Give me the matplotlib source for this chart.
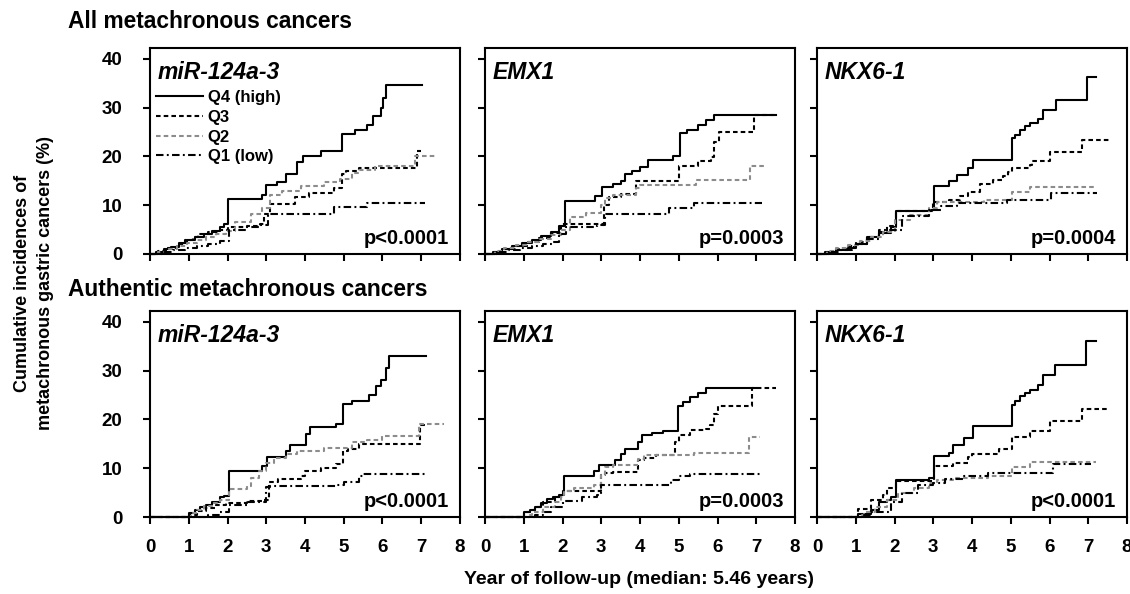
import matplotlib
matplotlib.use("Agg")
import matplotlib.pyplot as plt

plt.rcParams['font.family'] = ['Liberation Sans', 'DejaVu Sans']
plt.rcParams['font.weight'] = 'bold'

# ---------------- data ----------------
genes = ["miR-124a-3", "EMX1", "NKX6-1"]
row_titles = ["All metachronous cancers", "Authentic metachronous cancers"]
p_values = [["p<0.0001", "p=0.0003", "p=0.0004"],
            ["p<0.0001", "p=0.0003", "p<0.0001"]]
series_labels = ["Q4 (high)", "Q3", "Q2", "Q1 (low)"]
x_ticks = [0, 1, 2, 3, 4, 5, 6, 7, 8]
y_ticks = [0, 10, 20, 30, 40]

# Row 1 (all metachronous cancers)
a1_q4_t = [0, 0.15, 0.35, 0.55, 0.75, 0.95, 1.15, 1.4, 1.6, 1.8, 1.92, 2.0, 2.9, 3.0, 3.28, 3.5, 3.8, 3.95, 4.4, 4.95, 5.3, 5.6, 5.75, 5.95, 6.02, 6.08, 7.03]
a1_q4_y = [0, 0.5, 1.0, 1.5, 2.2, 2.8, 3.4, 4.0, 4.7, 5.5, 6.2, 11.3, 12.0, 14.1, 14.8, 16.3, 18.8, 20.1, 21.0, 24.6, 25.5, 26.5, 28.2, 29.9, 32.0, 34.6, 34.6]
a1_q3_t = [0, 0.2, 0.45, 0.7, 0.9, 1.1, 1.25, 1.5, 1.8, 2.0, 2.5, 2.85, 2.95, 3.1, 3.75, 4.1, 4.75, 4.95, 5.05, 5.4, 6.88, 7.0]
a1_q3_y = [0, 0.6, 1.2, 2.0, 2.8, 3.5, 4.1, 4.5, 5.0, 5.5, 5.8, 6.2, 8.2, 10.2, 11.6, 12.5, 13.6, 16.3, 17.0, 17.7, 21.0, 21.0]
a1_q2_t = [0, 0.2, 0.45, 0.7, 0.95, 1.2, 1.45, 1.7, 1.95, 2.2, 2.6, 2.9, 3.1, 3.4, 3.9, 4.5, 4.9, 5.2, 5.4, 5.8, 6.85, 7.4]
a1_q2_y = [0, 0.5, 1.0, 1.6, 2.2, 2.8, 3.4, 4.0, 4.8, 6.5, 8.2, 9.5, 12.1, 13.0, 13.9, 14.8, 15.3, 16.5, 17.3, 18.0, 20.1, 20.1]
a1_q1_t = [0, 0.3, 0.6, 0.9, 1.2, 1.5, 1.8, 2.05, 2.5, 2.85, 3.05, 4.75, 5.6, 7.1]
a1_q1_y = [0, 0.4, 0.8, 1.2, 1.6, 2.0, 2.7, 5.0, 5.5, 6.0, 8.2, 9.7, 10.5, 10.5]

a2_q4_t = [0, 0.2, 0.45, 0.7, 0.95, 1.2, 1.45, 1.7, 1.9, 2.07, 2.85, 3.02, 3.3, 3.5, 3.62, 3.8, 4.0, 4.2, 4.85, 5.02, 5.2, 5.5, 5.7, 5.9, 7.5]
a2_q4_y = [0, 0.5, 1.0, 1.6, 2.2, 2.8, 3.6, 4.5, 5.8, 10.9, 11.8, 13.8, 14.3, 15.0, 16.3, 17.0, 17.8, 19.3, 20.0, 24.8, 25.5, 26.5, 27.4, 28.4, 28.4]
a2_q3_t = [0, 0.25, 0.5, 0.8, 1.1, 1.4, 1.7, 1.95, 3.06, 3.2, 3.5, 3.9, 5.0, 5.5, 5.83, 5.92, 6.05, 6.93, 7.5]
a2_q3_y = [0, 0.5, 1.0, 1.6, 2.4, 3.2, 4.2, 6.1, 10.0, 11.6, 12.3, 15.0, 18.0, 19.0, 19.9, 23.0, 25.0, 28.4, 28.4]
a2_q2_t = [0, 0.25, 0.5, 0.8, 1.1, 1.4, 1.7, 1.95, 2.2, 2.6, 3.0, 3.1, 3.3, 3.9, 4.0, 5.45, 6.83, 7.2]
a2_q2_y = [0, 0.6, 1.2, 1.8, 2.4, 3.0, 3.8, 5.0, 7.5, 8.4, 10.0, 11.5, 12.0, 13.5, 14.1, 15.2, 18.0, 18.0]
a2_q1_t = [0, 0.3, 0.6, 0.9, 1.2, 1.5, 1.75, 1.9, 2.1, 2.9, 3.1, 4.75, 5.4, 7.15]
a2_q1_y = [0, 0.4, 0.8, 1.2, 1.6, 2.0, 2.5, 4.0, 5.5, 6.0, 8.2, 9.5, 10.4, 10.4]

a3_q4_t = [0, 0.2, 0.5, 0.8, 1.0, 1.3, 1.6, 1.9, 2.04, 2.95, 3.03, 3.4, 3.6, 3.9, 4.03, 5.03, 5.11, 5.24, 5.37, 5.5, 5.71, 5.84, 6.18, 6.98, 7.19]
a3_q4_y = [0, 0.4, 0.8, 1.3, 2.0, 3.5, 4.2, 5.5, 8.8, 9.0, 13.9, 15.0, 16.1, 17.7, 19.3, 23.7, 24.4, 25.4, 26.3, 26.9, 27.7, 29.4, 31.6, 36.2, 36.2]
a3_q3_t = [0, 0.25, 0.5, 0.8, 1.0, 1.3, 1.6, 1.8, 2.05, 3.0, 3.4, 3.68, 3.9, 4.2, 4.55, 4.81, 4.94, 5.03, 5.5, 5.54, 6.02, 6.85, 7.53]
a3_q3_y = [0, 0.5, 1.0, 1.6, 2.5, 3.5, 4.5, 5.8, 8.8, 10.6, 11.0, 11.9, 12.8, 14.4, 15.2, 15.9, 16.9, 17.6, 18.3, 19.1, 20.9, 23.4, 23.4]
a3_q2_t = [0, 0.25, 0.5, 0.8, 1.1, 1.4, 1.7, 2.0, 2.4, 2.9, 3.1, 4.3, 5.03, 5.5, 7.15]
a3_q2_y = [0, 0.6, 1.2, 1.8, 2.6, 3.4, 4.5, 7.0, 8.0, 9.5, 10.6, 11.1, 12.8, 13.8, 13.8]
a3_q1_t = [0, 0.3, 0.6, 0.9, 1.0, 1.3, 1.6, 2.2, 2.9, 3.2, 3.6, 4.9, 6.05, 7.23]
a3_q1_y = [0, 0.4, 0.9, 1.4, 2.0, 3.0, 5.0, 7.8, 9.0, 9.9, 10.4, 11.1, 12.5, 12.5]

# Row 2 (authentic metachronous cancers)
b1_q4_t = [0, 1.0, 1.15, 1.3, 1.45, 1.6, 1.8, 1.9, 2.05, 2.9, 3.02, 3.5, 3.62, 4.02, 4.12, 4.8, 4.97, 5.2, 5.65, 5.82, 5.95, 6.08, 6.17, 7.11]
b1_q4_y = [0, 0.8, 1.5, 2.0, 2.5, 3.0, 4.0, 4.2, 9.5, 10.5, 12.3, 13.6, 14.7, 17.1, 18.4, 19.1, 23.1, 23.7, 25.0, 26.8, 28.0, 30.5, 33.0, 33.0]
b1_q3_t = [0, 1.0, 1.2, 1.45, 1.7, 1.95, 2.5, 2.9, 3.06, 3.3, 3.9, 4.0, 4.4, 4.8, 4.97, 5.1, 5.4, 5.5, 6.98, 7.1]
b1_q3_y = [0, 0.5, 1.2, 1.8, 2.5, 2.9, 3.2, 3.5, 7.1, 7.8, 8.5, 9.5, 10.0, 10.8, 13.6, 14.0, 14.9, 15.0, 18.8, 18.8]
b1_q2_t = [0, 1.05, 1.2, 1.4, 1.6, 1.8, 2.05, 2.5, 2.6, 2.8, 3.0, 3.2, 3.5, 3.8, 4.5, 5.2, 5.6, 6.0, 6.95, 7.59]
b1_q2_y = [0, 0.8, 1.5, 2.2, 2.8, 3.5, 5.8, 6.4, 8.0, 9.5, 11.0, 12.0, 13.0, 13.6, 14.2, 15.3, 15.8, 16.6, 19.0, 19.0]
b1_q1_t = [0, 1.5, 1.8, 2.05, 2.5, 3.0, 3.1, 4.8, 5.0, 5.4, 5.5, 7.11]
b1_q1_y = [0, 0.5, 1.0, 2.5, 3.0, 6.1, 6.4, 6.6, 7.1, 8.5, 8.8, 8.8]

b2_q4_t = [0, 1.0, 1.15, 1.3, 1.45, 1.6, 1.75, 1.9, 2.04, 2.8, 2.95, 3.35, 3.5, 3.62, 3.95, 4.05, 4.3, 4.6, 4.98, 5.1, 5.3, 5.5, 5.7, 7.0]
b2_q4_y = [0, 1.0, 1.5, 2.0, 2.8, 3.6, 4.0, 4.5, 8.4, 9.5, 10.7, 11.6, 13.0, 14.0, 15.4, 16.8, 17.2, 17.6, 22.8, 23.5, 24.5, 25.4, 26.4, 26.4]
b2_q3_t = [0, 1.0, 1.15, 1.3, 1.5, 1.8, 2.0, 3.0, 3.1, 3.3, 3.95, 4.1, 4.4, 4.9, 5.0, 5.3, 5.7, 5.8, 5.9, 6.0, 6.9, 7.5]
b2_q3_y = [0, 1.0, 1.5, 2.0, 3.0, 4.0, 5.3, 8.6, 9.0, 9.3, 11.6, 12.0, 12.7, 15.4, 16.8, 17.8, 18.1, 18.8, 21.1, 22.8, 26.4, 26.4]
b2_q2_t = [0, 1.1, 1.2, 1.5, 1.8, 1.95, 2.05, 2.3, 2.8, 3.0, 3.1, 3.3, 3.95, 4.1, 5.4, 6.8, 7.1]
b2_q2_y = [0, 0.5, 1.0, 2.0, 3.0, 4.0, 5.3, 6.0, 6.5, 8.6, 10.3, 10.7, 11.9, 12.8, 13.2, 16.3, 16.3]
b2_q1_t = [0, 1.3, 1.5, 1.7, 2.0, 2.5, 2.9, 3.0, 4.8, 5.0, 5.3, 7.1]
b2_q1_y = [0, 0.5, 1.0, 2.0, 3.2, 4.0, 4.6, 6.6, 7.6, 8.3, 8.9, 8.9]

b3_q4_t = [0, 1.05, 1.4, 1.6, 1.8, 1.9, 2.04, 2.9, 3.02, 3.4, 3.5, 3.8, 4.03, 5.03, 5.11, 5.24, 5.37, 5.5, 5.71, 5.84, 6.15, 6.95, 7.19]
b3_q4_y = [0, 0.7, 1.5, 3.0, 3.5, 4.0, 7.6, 8.0, 12.4, 13.1, 14.8, 16.1, 18.6, 23.0, 23.7, 24.7, 25.4, 26.1, 27.1, 29.0, 31.2, 36.1, 36.1]
b3_q3_t = [0, 1.05, 1.4, 1.7, 1.8, 2.05, 3.02, 3.5, 3.9, 4.0, 4.7, 5.03, 5.5, 6.02, 6.85, 7.53]
b3_q3_y = [0, 1.7, 3.5, 4.5, 6.0, 7.4, 10.4, 11.0, 12.2, 12.9, 13.9, 16.3, 17.6, 19.7, 22.2, 22.2]
b3_q2_t = [0, 1.1, 1.2, 1.5, 1.8, 2.1, 2.5, 2.9, 3.1, 3.5, 4.4, 5.03, 5.5, 7.19]
b3_q2_y = [0, 0.5, 1.0, 2.0, 3.5, 5.0, 6.0, 7.0, 7.5, 8.0, 8.5, 10.2, 11.3, 11.3]
b3_q1_t = [0, 1.2, 1.4, 1.9, 2.2, 2.6, 3.0, 3.3, 3.8, 4.4, 6.1, 7.06]
b3_q1_y = [0, 0.5, 1.0, 3.0, 5.0, 6.5, 7.0, 7.8, 8.5, 9.1, 10.9, 10.9]

panels = [
    [[(a1_q4_t, a1_q4_y), (a1_q3_t, a1_q3_y), (a1_q2_t, a1_q2_y), (a1_q1_t, a1_q1_y)],
     [(a2_q4_t, a2_q4_y), (a2_q3_t, a2_q3_y), (a2_q2_t, a2_q2_y), (a2_q1_t, a2_q1_y)],
     [(a3_q4_t, a3_q4_y), (a3_q3_t, a3_q3_y), (a3_q2_t, a3_q2_y), (a3_q1_t, a3_q1_y)]],
    [[(b1_q4_t, b1_q4_y), (b1_q3_t, b1_q3_y), (b1_q2_t, b1_q2_y), (b1_q1_t, b1_q1_y)],
     [(b2_q4_t, b2_q4_y), (b2_q3_t, b2_q3_y), (b2_q2_t, b2_q2_y), (b2_q1_t, b2_q1_y)],
     [(b3_q4_t, b3_q4_y), (b3_q3_t, b3_q3_y), (b3_q2_t, b3_q2_y), (b3_q1_t, b3_q1_y)]],
]

# ---------------- style ----------------
styles = [
    dict(color="black", linestyle="-"),
    dict(color="black", linestyle=(0, (2.2, 1.5))),
    dict(color="#8c8c8c", linestyle=(0, (2.2, 1.5))),
    dict(color="black", linestyle=(0, (3.6, 1.6, 0.9, 1.6))),
]

W, H = 1130, 594
fig = plt.figure(figsize=(W / 100, H / 100), dpi=100)

col_left = [150, 485, 817]
col_width = 310
row_bottom = [254, 517]
row_height = 206

for r in range(2):
    for c in range(3):
        ax = fig.add_axes([col_left[c] / W, 1 - row_bottom[r] / H,
                           col_width / W, row_height / H])
        for k, (t, y) in enumerate(panels[r][c]):
            ax.step(t, y, where="post", lw=1.5, label=series_labels[k],
                    clip_on=False, **styles[k])
        ax.set_xlim(0, 8)
        ax.set_ylim(0, 42.2)
        ax.set_xticks(x_ticks)
        ax.set_yticks(y_ticks)
        for s in ax.spines.values():
            s.set_linewidth(1.5)
        ax.tick_params(direction="out", length=5, width=1.5, labelsize=13.5)
        ax.tick_params(axis="x", pad=11)
        ax.tick_params(axis="y", pad=15)
        if c != 0:
            ax.set_yticklabels([])
        if r != 1:
            ax.set_xticklabels([])
        for lab in ax.get_xticklabels() + ax.get_yticklabels():
            lab.set_fontweight("bold")
        ax.text(0.025, 0.935, genes[c], transform=ax.transAxes,
                fontsize=16.5, fontweight="bold", fontstyle="italic",
                ha="left", va="top")
        ax.text(0.965, 0.075, p_values[r][c], transform=ax.transAxes,
                fontsize=14.5, fontweight="bold", ha="right", va="center")
        if r == 0 and c == 0:
            leg = ax.legend(loc="upper left", bbox_to_anchor=(0.02, 0.795),
                            frameon=False, fontsize=12, handlelength=2.8,
                            handletextpad=0.3, labelspacing=0.28,
                            borderpad=0, borderaxespad=0)
            for txt in leg.get_texts():
                txt.set_fontweight("bold")

fig.text(68 / W, 1 - 22 / H, row_titles[0], fontsize=16.4, fontweight="bold",
         ha="left", va="center")
fig.text(68 / W, 1 - 289 / H, row_titles[1], fontsize=16.4, fontweight="bold",
         ha="left", va="center")
fig.text(34 / W, 1 - 283 / H,
         "Cumulative incidences of\nmetachronous gastric cancers (%)",
         rotation=90, fontsize=13, fontweight="bold", ha="center",
         va="center", linespacing=1.4)
fig.text(639 / W, 1 - 579 / H, "Year of follow-up (median: 5.46 years)",
         fontsize=14, fontweight="bold", ha="center", va="center")

fig.savefig("out.png", dpi=100)
